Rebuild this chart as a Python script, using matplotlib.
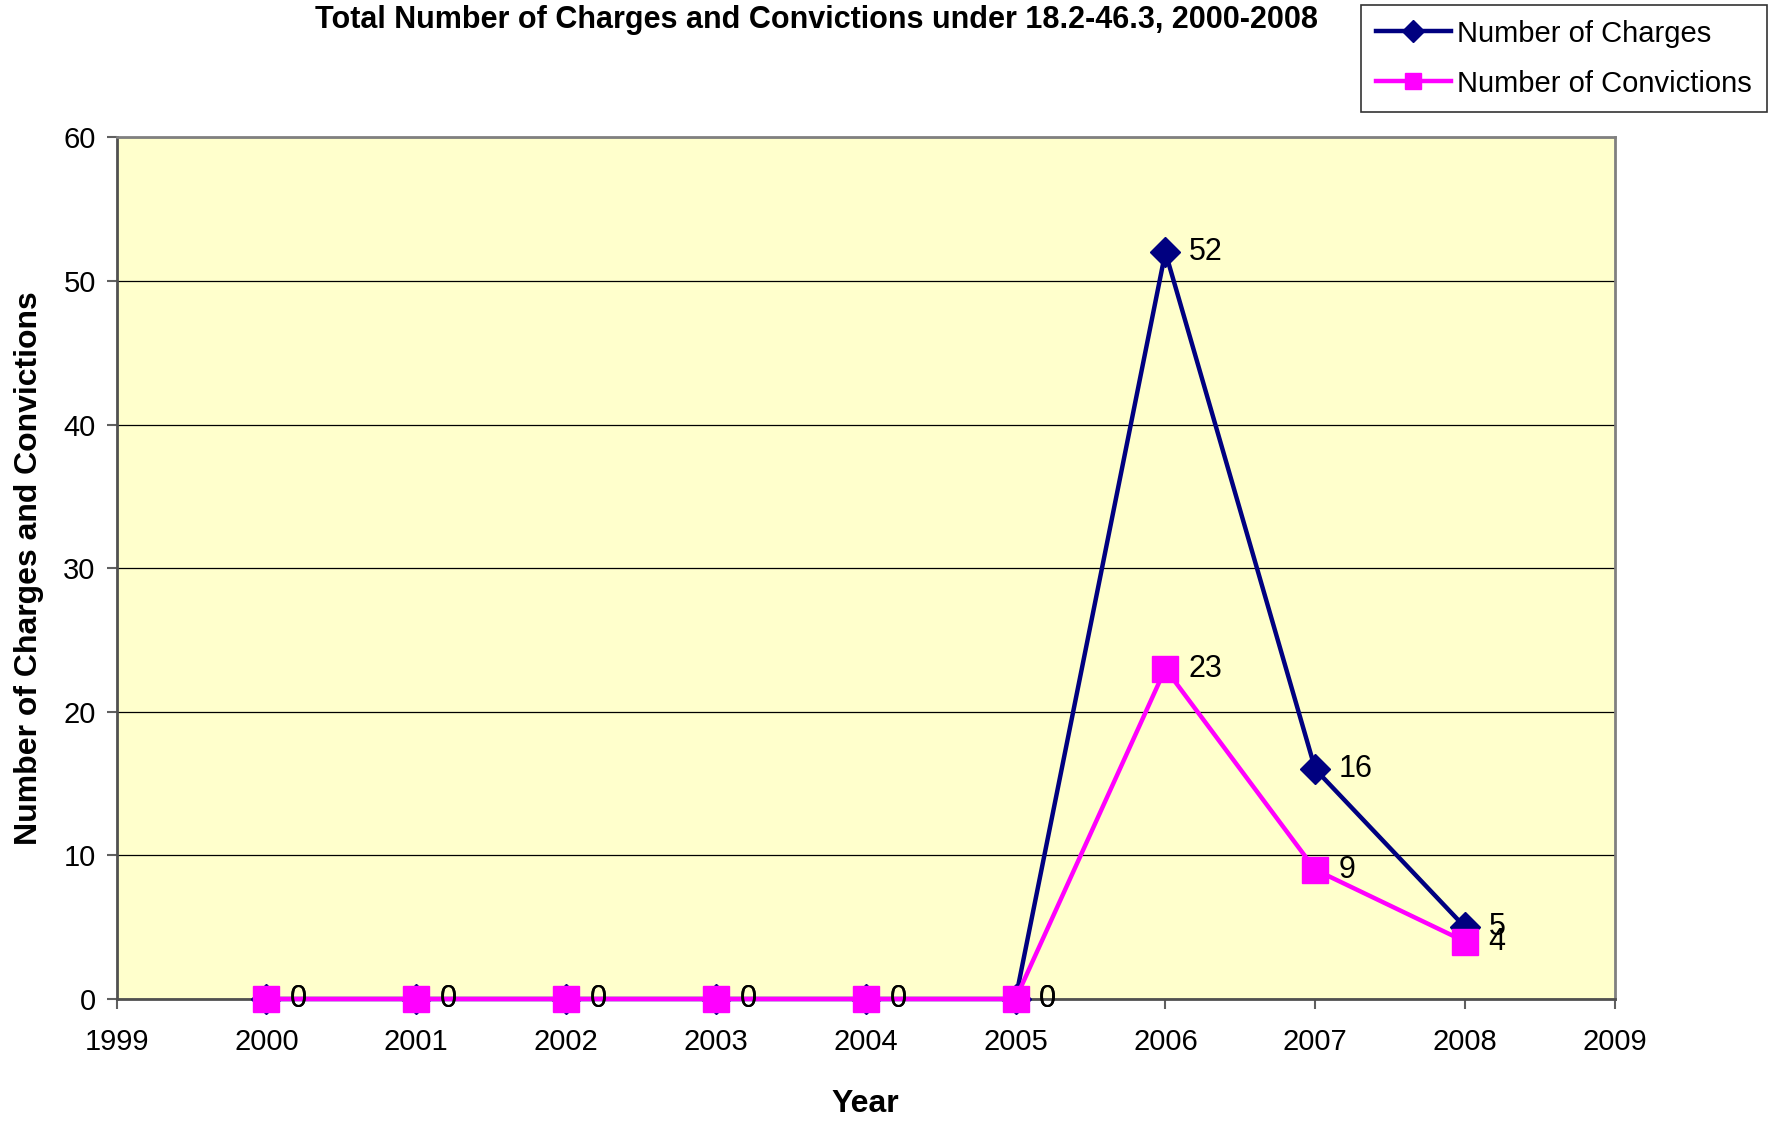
import matplotlib
matplotlib.use('Agg')
import matplotlib.pyplot as plt

# 数据
years = [2000, 2001, 2002, 2003, 2004, 2005, 2006, 2007, 2008]
charges = [0, 0, 0, 0, 0, 0, 52, 16, 5]
convictions = [0, 0, 0, 0, 0, 0, 23, 9, 4]

plt.rcParams['font.family'] = ['Liberation Sans', 'DejaVu Sans']

fig = plt.figure(figsize=(17.74, 11.25), dpi=100)
ax = fig.add_axes([0.0657, 0.112, 0.8446, 0.766])
ax.set_facecolor('#FFFFCC')

ax.plot(years, charges, color='#000080', lw=3.2, marker='D', ms=15,
        label='Number of Charges', zorder=3, clip_on=False)
ax.plot(years, convictions, color='#FF00FF', lw=3.2, marker='s', ms=19,
        label='Number of Convictions', zorder=4, clip_on=False)

# 数据标签
for x, y in zip(years, charges):
    ax.annotate(str(y), (x, y), xytext=(17, 0), textcoords='offset points',
                ha='left', va='center', fontsize=22, zorder=5)
for x, y in zip(years, convictions):
    ax.annotate(str(y), (x, y), xytext=(17, 0), textcoords='offset points',
                ha='left', va='center', fontsize=22, zorder=5)

ax.set_xlim(1999, 2009)
ax.set_ylim(0, 60)
ax.set_xticks(range(1999, 2010))
ax.set_yticks(range(0, 61, 10))
ax.yaxis.grid(True, color='black', lw=0.9)
ax.set_axisbelow(True)
ax.tick_params(axis='both', labelsize=21, color='#606060', length=7, width=1.5)
ax.tick_params(axis='x', pad=14)
ax.tick_params(axis='y', pad=8)
for s in ax.spines.values():
    s.set_color('#808080')
    s.set_linewidth(2)
ax.spines['left'].set_color('#505050')
ax.spines['bottom'].set_color('#505050')

ax.set_xlabel('Year', fontsize=23, fontweight='bold', labelpad=24)
ax.set_ylabel('Number of Charges and Convictions', fontsize=23, fontweight='bold', labelpad=14)

fig.text(0.4605, 0.982, 'Total Number of Charges and Convictions under 18.2-46.3, 2000-2008',
         ha='center', va='center', fontsize=22, fontweight='bold')

leg = fig.legend(loc='upper right', bbox_to_anchor=(0.9958, 0.9955), fontsize=21,
                 frameon=True, fancybox=False, edgecolor='black', handlelength=2.6,
                 borderpad=0.5, labelspacing=0.75, handletextpad=0.2, borderaxespad=0)
leg.get_frame().set_linewidth(1.2)
for h in leg.legend_handles:
    h.set_markersize(11)

fig.savefig('out.png', dpi=100)
